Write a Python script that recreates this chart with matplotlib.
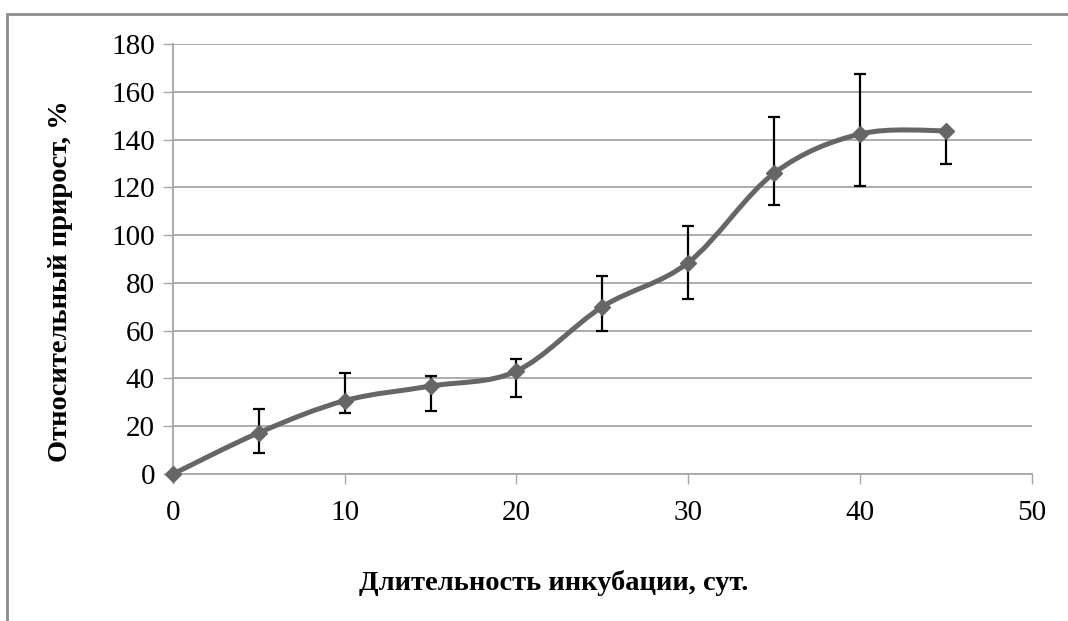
import numpy as np
import matplotlib
matplotlib.use('Agg')
import matplotlib.pyplot as plt
from matplotlib.path import Path
from matplotlib.patches import PathPatch, Rectangle

# данные
days = [0, 5, 10, 15, 20, 25, 30, 35, 40, 45]
growth = [0, 17.3, 30.7, 36.8, 43.1, 70.0, 88.5, 125.9, 142.3, 143.7]
err_up = [0, 9.9, 11.4, 4.1, 4.9, 12.7, 15.5, 23.5, 25.3, 0]
err_low = [0, 8.6, 5.3, 10.3, 10.7, 10.1, 15.2, 13.4, 21.9, 14.1]

y_ticks = [0, 20, 40, 60, 80, 100, 120, 140, 160, 180]
x_ticks = [0, 10, 20, 30, 40, 50]

line_color = '#666666'
grid_color = '#a6a6a6'


def smooth_path(x, y):
    # сглаживание как в Excel (кривые Безье по Catmull-Rom)
    pts = np.column_stack([x, y]).astype(float)
    n = len(pts)
    verts = [pts[0]]
    codes = [Path.MOVETO]
    for i in range(n - 1):
        p0 = pts[i - 1] if i > 0 else pts[i]
        p1 = pts[i]
        p2 = pts[i + 1]
        p3 = pts[i + 2] if i + 2 < n else pts[i + 1]
        c1 = p1 + (p2 - p0) / 6
        c2 = p2 - (p3 - p1) / 6
        verts += [c1, c2, p2]
        codes += [Path.CURVE4] * 3
    return Path(verts, codes)


plt.rcParams['font.family'] = ['Liberation Serif', 'DejaVu Serif']

fig = plt.figure(figsize=(10.68, 6.21), dpi=100)
ax = fig.add_axes([0.162, 0.2367, 0.804, 0.6925])

# рамка вокруг диаграммы
fig.patches.append(Rectangle((7 / 1068, -0.1), 1.2, 0.1 + 1 - 13.5 / 621,
                             transform=fig.transFigure, fill=False,
                             edgecolor='#8c8c8c', linewidth=2))

ax.errorbar(days, growth, yerr=[err_low, err_up], fmt='none', ecolor='black',
            elinewidth=1.6, capsize=4, capthick=1.6, zorder=3)
ax.add_patch(PathPatch(smooth_path(days, growth), facecolor='none',
                       edgecolor=line_color, linewidth=3.6, zorder=4,
                       capstyle='round'))
ax.plot(days, growth, linestyle='none', marker='D', markersize=8,
        color=line_color, zorder=5, clip_on=False)

ax.set_xlim(0, 50)
ax.set_ylim(0, 180)
ax.set_xticks(x_ticks)
ax.set_yticks(y_ticks)
ax.tick_params(labelsize=21, direction='out', length=7, width=1,
               color=grid_color, pad=6)
ax.tick_params(axis='x', pad=12)
ax.yaxis.grid(True, color=grid_color, linewidth=1.3)
ax.set_axisbelow(True)
for s in ['top', 'right']:
    ax.spines[s].set_visible(False)
for s in ['left', 'bottom']:
    ax.spines[s].set_color(grid_color)
    ax.spines[s].set_linewidth(1.3)

ax.set_xlabel('Длительность инкубации, сут.', fontsize=20.5, fontweight='bold',
              va='center')
ax.set_ylabel('Относительный прирост, %', fontsize=20.5, fontweight='bold',
              va='center')
ax.xaxis.set_label_coords(0.4435, -0.2535)
ax.yaxis.set_label_coords(-0.1315, 0.448)

fig.savefig('out.png', dpi=100)
